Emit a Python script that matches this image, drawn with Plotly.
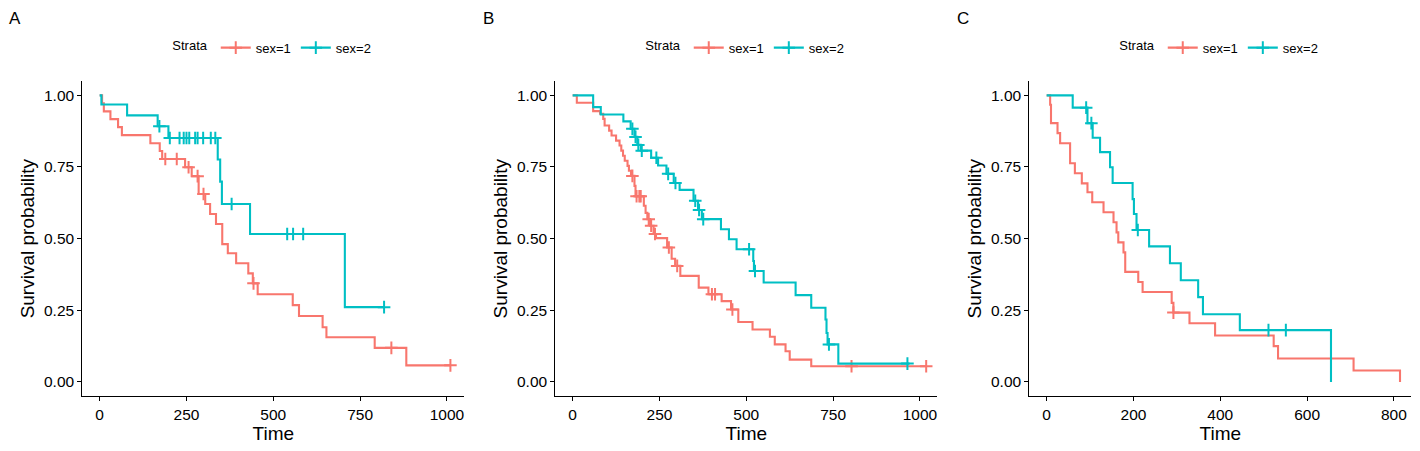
import plotly.graph_objects as go

# ---------------- data ----------------
# Panel A
A1_time = [0, 7, 12, 31, 53, 64, 146, 173, 180, 246, 265, 285, 304, 318, 335, 353, 369, 393, 428, 441, 455, 556, 574, 642, 653, 792, 883, 1010]
A1_surv = [1.0, 0.972, 0.944, 0.917, 0.889, 0.861, 0.833, 0.806, 0.778, 0.749, 0.718, 0.656, 0.621, 0.586, 0.551, 0.481, 0.449, 0.414, 0.379, 0.344, 0.306, 0.268, 0.230, 0.191, 0.156, 0.119, 0.058, 0.058]
A1_cens = [189, 222, 256, 282, 299, 443, 840, 1010]

A2_time = [0, 5, 79, 167, 198, 340, 347, 352, 433, 706, 819]
A2_surv = [1.0, 0.968, 0.930, 0.892, 0.851, 0.776, 0.699, 0.621, 0.516, 0.261, 0.261]
A2_cens = [172, 202, 230, 242, 250, 258, 275, 282, 298, 320, 333, 380, 540, 557, 586, 819]

# Panel B
B1_time = [0, 12, 59, 79, 88, 92, 105, 112, 125, 135, 140, 145, 150, 158, 162, 168, 178, 181, 205, 210,
           215, 223, 233, 240, 272, 285, 295, 310, 363, 391, 429, 456, 477, 518, 568, 582, 613, 625, 687, 1018]
B1_surv = [1.0, 0.974, 0.945, 0.936, 0.918, 0.895, 0.877, 0.860, 0.842, 0.825, 0.807, 0.789, 0.772, 0.754, 0.737, 0.719, 0.684, 0.648, 0.615, 0.590,
           0.568, 0.545, 0.516, 0.502, 0.469, 0.430, 0.405, 0.370, 0.329, 0.306, 0.282, 0.253, 0.209, 0.183, 0.158, 0.131, 0.107, 0.078, 0.055, 0.055]
B1_cens = [172, 184, 192, 196, 219, 226, 237, 277, 301, 401, 410, 460, 803, 1018]

B2_time = [0, 59, 81, 146, 167, 178, 186, 196, 226, 246, 270, 291, 308, 348, 361, 372, 427, 450, 472, 520,
           522, 550, 642, 687, 728, 731, 734, 765, 970]
B2_surv = [1.0, 0.959, 0.933, 0.909, 0.883, 0.855, 0.827, 0.807, 0.782, 0.755, 0.726, 0.694, 0.670, 0.632, 0.600, 0.568, 0.533, 0.498, 0.463, 0.422,
           0.387, 0.347, 0.303, 0.259, 0.218, 0.171, 0.131, 0.064, 0.064]
B2_cens = [172, 181, 189, 199, 241, 275, 296, 353, 364, 376, 508, 525, 738, 964]

# Panel C
C1_time = [0, 8, 10, 25, 31, 54, 65, 81, 94, 105, 131, 154, 161, 165, 177, 181, 211, 221, 288, 292, 329, 388, 523, 533, 707, 814]
C1_surv = [1.0, 0.967, 0.903, 0.868, 0.833, 0.763, 0.728, 0.693, 0.662, 0.627, 0.592, 0.557, 0.522, 0.487, 0.452, 0.384, 0.349, 0.314, 0.276, 0.242, 0.205, 0.162, 0.125, 0.082, 0.040, 0.0]
C1_cens = [292]

C2_time = [0, 60, 94, 106, 123, 146, 152, 198, 201, 207, 236, 284, 309, 349, 360, 445, 655]
C2_surv = [1.0, 0.957, 0.903, 0.852, 0.802, 0.749, 0.694, 0.638, 0.586, 0.53, 0.473, 0.414, 0.355, 0.296, 0.236, 0.181, 0.0]
C2_cens = [91, 103, 210, 511, 551]

PANEL_LABELS = ["A", "B", "C"]
STRATA_NAMES = ["sex=1", "sex=2"]
X_TICKS_AB = [0, 250, 500, 750, 1000]
X_TICKS_C = [0, 200, 400, 600, 800]
Y_TICKS = [0.0, 0.25, 0.5, 0.75, 1.0]

# ---------------- style ----------------
W, H = 1420, 451
RED = "#F8766D"
TEAL = "#00BFC4"
COLORS = [RED, TEAL]
FONT = "Arial, Liberation Sans, sans-serif"


def surv_at(times, survs, t):
    v = survs[0]
    for ti, si in zip(times, survs):
        if ti <= t:
            v = si
        else:
            break
    return v


panels = [
    dict(label=PANEL_LABELS[0], px=(82.3, 464.3), xr=[-50, 1050], ticks=X_TICKS_AB,
         strata=[(A1_time, A1_surv, A1_cens), (A2_time, A2_surv, A2_cens)], lab_x=7),
    dict(label=PANEL_LABELS[1], px=(555.3, 937.3), xr=[-50, 1050], ticks=X_TICKS_AB,
         strata=[(B1_time, B1_surv, B1_cens), (B2_time, B2_surv, B2_cens)], lab_x=481),
    dict(label=PANEL_LABELS[2], px=(1029.3, 1411.3), xr=[-40, 840], ticks=X_TICKS_C,
         strata=[(C1_time, C1_surv, C1_cens), (C2_time, C2_surv, C2_cens)], lab_x=955),
]

y_dom = [1 - 396.3 / H, 1 - 81 / H]

fig = go.Figure()
layout = dict(
    width=W, height=H, template="none",
    margin=dict(l=0, r=0, t=0, b=0, autoexpand=False),
    paper_bgcolor="white", plot_bgcolor="white",
    font=dict(family=FONT, color="black"),
    annotations=[],
)

for i, p in enumerate(panels):
    k = "" if i == 0 else str(i + 1)
    xa, ya = "x" + k, "y" + k
    leg = "legend" + k
    for j, (t, s, c) in enumerate(p["strata"]):
        col = COLORS[j]
        fig.add_trace(go.Scatter(
            x=t, y=s, mode="lines", line=dict(color=col, width=2.1, shape="hv"),
            xaxis=xa, yaxis=ya, showlegend=False, hoverinfo="skip"))
        fig.add_trace(go.Scatter(
            x=c, y=[surv_at(t, s, ci) for ci in c], mode="markers",
            marker=dict(symbol="cross-thin", size=9, line=dict(color=col, width=2)),
            xaxis=xa, yaxis=ya, showlegend=False, hoverinfo="skip"))
        fig.add_trace(go.Scatter(
            x=[None], y=[None], mode="lines+markers", name=STRATA_NAMES[j],
            line=dict(color=col, width=2.1),
            marker=dict(symbol="cross-thin", size=9, line=dict(color=col, width=2)),
            xaxis=xa, yaxis=ya, legend=leg, showlegend=True))

    x0, x1 = p["px"]
    axis_common = dict(
        showline=True, linecolor="black", linewidth=1.1, mirror=False,
        ticks="outside", ticklen=4, tickwidth=1.1, tickcolor="black",
        showgrid=False, zeroline=False, automargin=False,
        tickfont=dict(family=FONT, size=15.5, color="black"),
    )
    layout["xaxis" + k] = dict(
        axis_common, domain=[x0 / W, x1 / W], range=p["xr"], anchor=ya,
        tickvals=p["ticks"], ticktext=[str(v) for v in p["ticks"]],
        title=dict(text="Time", font=dict(family=FONT, size=19, color="black"), standoff=4),
    )
    layout["yaxis" + k] = dict(
        axis_common, domain=y_dom, range=[-0.05, 1.05], anchor=xa,
        tickvals=Y_TICKS, ticktext=["%.2f" % v for v in Y_TICKS],
        title=dict(text="Survival probability", font=dict(family=FONT, size=19, color="black"), standoff=4),
    )
    layout[leg] = dict(
        orientation="h", x=(x0 + x1) / 2 / W, xanchor="center",
        y=1 - 47.7 / H, yanchor="middle",
        title=dict(text="Strata", font=dict(family=FONT, size=13, color="black")),
        font=dict(family=FONT, size=13, color="black"),
        bgcolor="rgba(0,0,0,0)", itemwidth=30,
    )
    layout["annotations"].append(dict(
        text=p["label"], x=p["lab_x"] / W, y=1 - 19 / H, xref="paper", yref="paper",
        xanchor="left", yanchor="middle", showarrow=False,
        font=dict(family=FONT, size=17, color="black")))

fig.update_layout(**layout)
fig.write_html(
    "out.html",
    config={"displayModeBar": False},
    post_script="document.body.style.margin='0';document.body.style.overflow='hidden';",
)
